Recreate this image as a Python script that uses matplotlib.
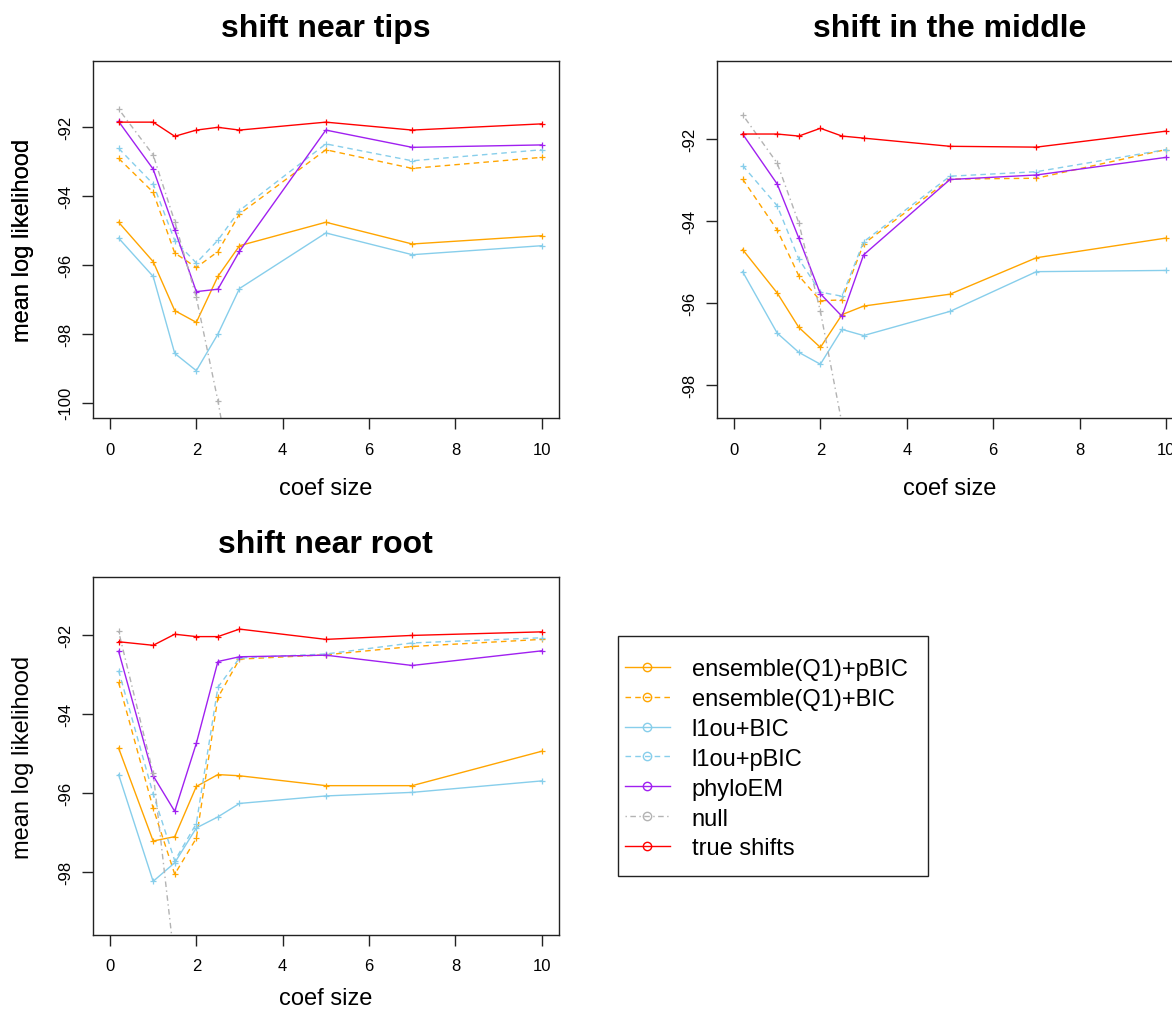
import matplotlib
matplotlib.use("Agg")
import matplotlib.pyplot as plt
from matplotlib.lines import Line2D
from matplotlib.patches import Rectangle

plt.rcParams['font.family'] = ['Liberation Sans', 'DejaVu Sans']
plt.rcParams['axes.unicode_minus'] = False

# coefficient sizes shared by all three panels
coef = [0.2, 1, 1.5, 2, 2.5, 3, 5, 7, 10]

methods = ["ensemble(Q1)+pBIC", "ensemble(Q1)+BIC", "l1ou+BIC", "l1ou+pBIC",
           "phyloEM", "null", "true shifts"]
colors = ["#FFA500", "#FFA500", "#87CEEB", "#87CEEB", "#A020F0", "#B3B3B3", "#FF0000"]
styles = ["solid", "dashed", "solid", "dashed", "solid", "dotdash", "solid"]

# shift near tips
tips_ens_pbic = [-94.77, -95.91, -97.33, -97.67, -96.34, -95.45, -94.77, -95.40, -95.16]
tips_ens_bic = [-92.92, -93.90, -95.66, -96.08, -95.62, -94.53, -92.67, -93.21, -92.89]
tips_l1ou_bic = [-95.23, -96.34, -98.57, -99.07, -98.01, -96.69, -95.08, -95.71, -95.45]
tips_l1ou_pbic = [-92.63, -93.66, -95.30, -95.95, -95.29, -94.43, -92.50, -92.99, -92.67]
tips_phyloem = [-91.85, -93.23, -94.99, -96.78, -96.71, -95.61, -92.10, -92.60, -92.53]
tips_null = [-91.49, -92.82, -94.75, -96.95, -99.94, -103.5, -110.0, -115.0, -120.0]
tips_true = [-91.87, -91.87, -92.28, -92.10, -92.02, -92.10, -91.87, -92.10, -91.92]

# shift in the middle
mid_ens_pbic = [-94.70, -95.76, -96.60, -97.09, -96.29, -96.08, -95.79, -94.90, -94.42]
mid_ens_bic = [-92.98, -94.22, -95.34, -95.95, -95.93, -94.56, -92.98, -92.96, -92.26]
mid_l1ou_bic = [-95.24, -96.74, -97.21, -97.50, -96.65, -96.80, -96.21, -95.24, -95.21]
mid_l1ou_pbic = [-92.65, -93.63, -94.93, -95.74, -95.84, -94.51, -92.91, -92.80, -92.26]
mid_phyloem = [-91.88, -93.10, -94.42, -95.78, -96.33, -94.83, -92.99, -92.88, -92.45]
mid_null = [-91.41, -92.59, -94.05, -96.21, -98.95, -102.0, -108.0, -113.0, -118.0]
mid_true = [-91.88, -91.88, -91.93, -91.74, -91.93, -91.98, -92.18, -92.20, -91.81]

# shift near root
root_ens_pbic = [-94.87, -97.22, -97.11, -95.84, -95.54, -95.57, -95.82, -95.82, -94.95]
root_ens_bic = [-93.21, -96.39, -98.06, -97.15, -93.59, -92.62, -92.51, -92.30, -92.12]
root_l1ou_bic = [-95.54, -98.24, -97.77, -96.89, -96.61, -96.27, -96.08, -95.99, -95.70]
root_l1ou_pbic = [-92.91, -96.03, -97.72, -96.78, -93.33, -92.59, -92.49, -92.21, -92.08]
root_phyloem = [-92.42, -95.57, -96.47, -94.75, -92.68, -92.56, -92.52, -92.78, -92.41]
root_null = [-91.92, -95.50, -100.3, -104.0, -108.0, -111.0, -115.0, -118.0, -121.0]
root_true = [-92.18, -92.27, -91.99, -92.05, -92.05, -91.86, -92.12, -92.02, -91.93]

W, H = 1172, 1012


def dash(style):
    if style == "dashed":
        return (0, (4, 3))
    if style == "dotdash":
        return (0, (1, 2.5, 4, 2.5))
    return "solid"


def panel(fig, box, title, series, ylim, yticks, xlab_off=76):
    left, top, right, bottom = box
    ax = fig.add_axes([left / W, 1 - bottom / H, (right - left) / W, (bottom - top) / H])
    for vals, col, st in zip(series, colors, styles):
        ax.plot(coef, vals, color=col, linestyle=dash(st), lw=1.0,
                marker="+", ms=4, mew=0.9)
    ax.set_xlim(-0.4, 10.4)
    ax.set_ylim(*ylim)
    ax.set_xticks([0, 2, 4, 6, 8, 10])
    ax.set_yticks(yticks)
    ax.tick_params(axis="both", length=8, width=1.0, labelsize=12, color="#222222")
    ax.tick_params(axis="x", pad=9)
    ax.tick_params(axis="y", pad=6, labelrotation=90)
    for lab in ax.get_yticklabels():
        lab.set_va("center")
    for sp in ax.spines.values():
        sp.set_linewidth(1.0)
        sp.set_color("#222222")
    ax.set_title(title, fontsize=23, fontweight="bold", pad=18)
    ax.set_xlabel("coef size", fontsize=17)
    ax.xaxis.set_label_coords(0.5, -xlab_off / (bottom - top))
    ax.xaxis.label.set_va("baseline")
    ax.set_ylabel("mean log likelihood", fontsize=17)
    ax.yaxis.set_label_coords(-(left - 23) / (right - left), 0.5)
    ax.yaxis.label.set_va("center")
    return ax


fig = plt.figure(figsize=(W / 100, H / 100), dpi=100)

panel(fig, (92.7, 61.7, 559, 419.3), "shift near tips",
      [tips_ens_pbic, tips_ens_bic, tips_l1ou_bic, tips_l1ou_pbic, tips_phyloem, tips_null, tips_true],
      (-100.45, -90.09), [-100, -98, -96, -94, -92])

panel(fig, (716.7, 61.7, 1183.3, 419.3), "shift in the middle",
      [mid_ens_pbic, mid_ens_bic, mid_l1ou_bic, mid_l1ou_pbic, mid_phyloem, mid_null, mid_true],
      (-98.82, -90.09), [-98, -96, -94, -92])

panel(fig, (92.7, 578.3, 559, 935.7), "shift near root",
      [root_ens_pbic, root_ens_bic, root_l1ou_bic, root_l1ou_pbic, root_phyloem, root_null, root_true],
      (-99.59, -90.55), [-98, -96, -94, -92], xlab_off=69)

# legend with a plain square frame
fig.patches.append(Rectangle((618 / W, 1 - 877 / H), (928 - 618) / W, (877 - 637) / H,
                             transform=fig.transFigure, fill=False, ec="#222222", lw=1.0))
handles = [Line2D([], [], color=c, linestyle=dash(s), lw=1.0, marker="o", ms=6,
                  mfc="none", mew=1.0) for c, s in zip(colors, styles)]
fig.legend(handles, methods, loc="upper left", bbox_to_anchor=(625 / W, 1 - 659 / H),
           frameon=False, fontsize=17, borderpad=0, borderaxespad=0,
           handlelength=1.9, handletextpad=0.92, labelspacing=0.335)

fig.savefig("out.png", dpi=100)
